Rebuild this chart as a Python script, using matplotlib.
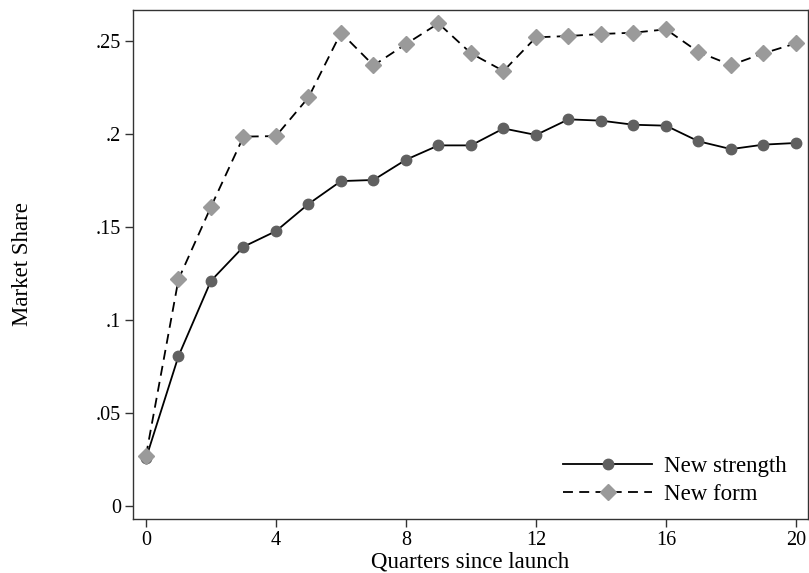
import matplotlib
matplotlib.use("Agg")
import matplotlib.pyplot as plt

quarters = list(range(21))
new_strength = [0.0256, 0.0806, 0.1211, 0.1394, 0.1478, 0.1624, 0.1747, 0.1753,
                0.1862, 0.1939, 0.1939, 0.2030, 0.1995, 0.2079, 0.2072, 0.2050,
                0.2045, 0.1961, 0.1919, 0.1943, 0.1952]
new_form = [0.0271, 0.1219, 0.1609, 0.1986, 0.1989, 0.2197, 0.2545, 0.2369,
            0.2484, 0.2595, 0.2434, 0.2339, 0.2520, 0.2527, 0.2538, 0.2545,
            0.2563, 0.2441, 0.2371, 0.2434, 0.2488]
x_ticks = [0, 4, 8, 12, 16, 20]
y_ticks = [0, 0.05, 0.1, 0.15, 0.2, 0.25]
y_labels = ['0', '.05', '.1', '.15', '.2', '.25']

plt.rcParams['font.family'] = ['Liberation Serif', 'DejaVu Serif']

fig = plt.figure(figsize=(8.09, 5.73), dpi=100)
ax = fig.add_axes([133 / 809, 1 - 519 / 573, 675 / 809, 509 / 573])

ax.plot(quarters, new_strength, color='black', linewidth=1.3, marker='o',
        markersize=7.5, markerfacecolor='#606060', markeredgecolor='#606060',
        label='New strength')
ax.plot(quarters, new_form, color='black', linewidth=1.3, linestyle=(0, (5.5, 3.5)),
        marker='D', markersize=8.5, markerfacecolor='#9a9a9a',
        markeredgecolor='#9a9a9a', label='New form')

ax.set_xlim(-0.4, 20.37)
ax.set_ylim(-0.007, 0.2667)
ax.set_xticks(x_ticks)
ax.set_yticks(y_ticks)
ax.set_yticklabels(y_labels)
ax.tick_params(direction='out', length=5.5, width=1, color='#333333', pad=3,
               labelsize=14.5)

for s in ax.spines.values():
    s.set_color('#333333')
    s.set_linewidth(1.0)

ax.set_xlabel('Quarters since launch', fontsize=16.5, labelpad=1)
ax.set_ylabel('Market Share', fontsize=16.5, labelpad=45)

leg = ax.legend(loc='lower right', frameon=False, fontsize=16.5,
                handlelength=3.9, handletextpad=0.5, labelspacing=0.32,
                borderpad=0, borderaxespad=0, bbox_to_anchor=(0.968, 0.027))

fig.savefig('out.png', dpi=100)
